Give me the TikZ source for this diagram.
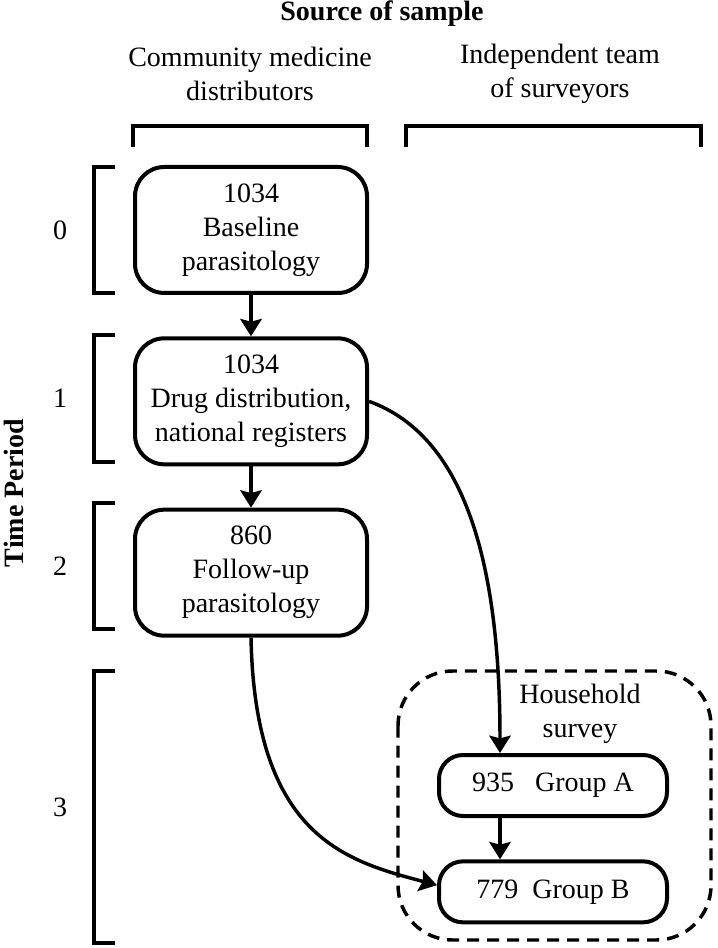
\documentclass[tikz,border=0pt]{standalone}
\usepackage{fontspec}
\setmainfont{Liberation Serif}
\usepackage{tikz}
\usetikzlibrary{arrows.meta, positioning}

\begin{document}
\begin{tikzpicture}
            [
            x=0.75pt, y=0.75pt,
            node distance=31pt,
            every node/.style={
                font=\fontsize{21}{25.5}\selectfont
            },
            stage/.style={
                rectangle,
                draw,
                line width=3pt,
                rounded corners=22pt,
                minimum width=174pt,
                minimum height=94.5pt,
                inner sep=0pt,
                align=center
            },
            group/.style={
                rectangle,
                draw,
                line width=3pt,
                rounded corners=18pt,
                minimum width=171pt,
                minimum height=45.75pt,
                inner sep=0pt,
                align=center
            },
            heading/.style={
                font=\fontsize{21}{25.5}\selectfont\bfseries
            },
            bracket/.style={
                line width=3.4pt
            },
            dashedbox/.style={
                draw,
                line width=2.6pt,
                dash pattern=on 9pt off 6pt,
                rounded corners=41pt
            },
            arrow/.style={
                line width=2.6pt,
                -{Stealth[length=13pt, width=16pt, inset=2pt]}
            }
            ]
            \useasboundingbox (0,0) rectangle (717,-948);

            % column headings
            \node (title) [heading] at (382,-14) {Source of sample};
            \node (cmd) [align=center] at (250,-74) {Community medicine\\distributors};
            \node (ind) [align=center] at (560,-74) {Independent team\\of surveyors};

            % top brackets
            \draw[bracket] (133,-147) -- (133,-126) -- (367,-126) -- (367,-147);
            \draw[bracket] (406,-147) -- (406,-126) -- (701,-126) -- (701,-147);

            % time periods
            \node (tp) [heading, rotate=90] at (14,-493) {Time Period};
            \foreach \t/\ytop/\ybot in {0/167/293, 1/335/462, 2/503/629, 3/671/943} {
                \draw[bracket] (115,-\ytop) -- (94,-\ytop) -- (94,-\ybot) -- (115,-\ybot);
                \node (t\t) at (60,{-(\ytop+\ybot)/2}) {\t};
            }

            % left column
            \node (base) [stage] at (251,-230) {1034\\Baseline\\parasitology};
            \node (drug) [stage, below=of base] {1034\\Drug distribution,\\national registers};
            \node (follow) [stage, below=of drug] {860\\Follow-up\\parasitology};

            % household survey
            \draw[dashedbox] (398,-671) rectangle (711,-940);
            \node (hh) [align=center] at (580,-714) {Household\\survey};
            \node (groupA) [group] at (553,-785.5) {935~~~Group A};
            \node (groupB) [group, below=of groupA] {779~~Group B};
            \coordinate (ax) at (500,0);

            \draw[arrow] (base.south) -- (drug.north);
            \draw[arrow] (drug.south) -- (follow.north);
            \draw[arrow] (ax |- groupA.south) -- (ax |- groupB.north);
            \draw[arrow] (drug.east) .. controls +(94,-34) and +(0,195) .. (ax |- groupA.north);
            \draw[arrow] (follow.south) .. controls +(4,-200) and +(-90,24) .. ([yshift=5pt]groupB.west);

        \end{tikzpicture}
\end{document}
